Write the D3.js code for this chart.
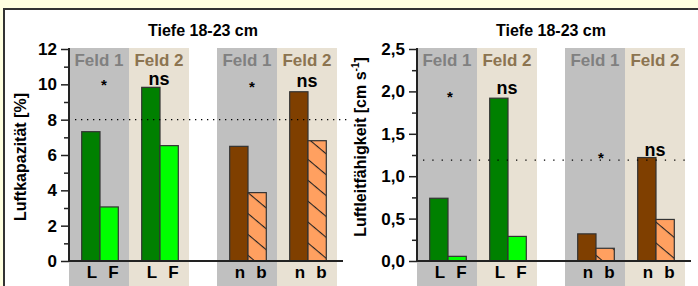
<!DOCTYPE html>
<html><head><meta charset="utf-8">
<script src="https://cdn.jsdelivr.net/npm/d3@7"></script>
<style>
html,body{margin:0;padding:0;background:#ffffe0;}
svg{display:block;font-family:"Liberation Sans",Arial,sans-serif;}
</style></head>
<body>
<svg id="c" width="698" height="286"></svg>
<script>
// ---- data ----
const title = "Tiefe 18-23 cm";
const fields = ["Feld 1", "Feld 2"];
const groups = ["A", "B"];
const catLabelsA = ["L", "F"];
const catLabelsB = ["n", "b"];
// left chart: Luftkapazität [%]
const kapA = [[7.32, 3.06], [9.83, 6.53]];
const kapB = [[6.49, 3.87], [9.58, 6.81]];
const kapSig = [["*", "ns"], ["*", "ns"]];
const kapRef = 8;
const kapTicks = [0, 2, 4, 6, 8, 10, 12];
// right chart: Luftleitfähigkeit [cm s-1]
const leitA = [[0.74, 0.055], [1.92, 0.29]];
const leitB = [[0.32, 0.15], [1.22, 0.49]];
const leitSig = [["*", "ns"], ["*", "ns"]];
const leitRef = 1.19;
const leitTicks = [0, 0.5, 1.0, 1.5, 2.0, 2.5];

const svg = d3.select("#c");
// panel
svg.append("rect").attr("x", 4).attr("y", 9).attr("width", 700).attr("height", 290)
  .attr("fill", "#fff").attr("stroke", "#333").attr("stroke-width", 2);

const defs = svg.append("defs");
const pat = defs.append("pattern").attr("id", "hatch").attr("patternUnits", "userSpaceOnUse")
  .attr("width", 16).attr("height", 16).attr("patternTransform", "rotate(40)");
pat.append("rect").attr("width", 16).attr("height", 16).attr("fill", "#ffa060");
pat.append("line").attr("x1", 0).attr("y1", 0.5).attr("x2", 16).attr("y2", 0.5)
  .attr("stroke", "#222").attr("stroke-width", 1.2);

const bandColors = {"Feld 1": "#c0c0c0", "Feld 2": "#e8e1d3"};
const fieldText = {"Feld 1": "#808080", "Feld 2": "#8c7450"};
const colA = ["#008000", "#00ff00"];
const colB = ["#7f3f00", "url(#hatch)"];
const FONT = "Liberation Sans, Arial, sans-serif";

function chart(ox, cfg) {
  const g = svg.append("g").attr("transform", `translate(${ox},0)`);
  const y = d3.scaleLinear().domain([0, cfg.max]).range([261, 49]);
  const outer = d3.scaleBand().domain(groups).range([0, 268]).paddingInner(28 / 148);
  const inner = d3.scaleBand().domain(fields).range([0, outer.bandwidth()]);
  const barX = d3.scaleBand().domain([0, 1]).range([12.7, 49.3]);
  const labX = d3.scaleOrdinal().domain([0, 1]).range([23, 44.5]);

  groups.forEach((gr, gi) => {
    const vals = gi === 0 ? cfg.a : cfg.b;
    const cols = gi === 0 ? colA : colB;
    const labs = gi === 0 ? catLabelsA : catLabelsB;
    fields.forEach((f, fi) => {
      const x0 = outer(gr) + inner(f);
      g.append("rect").attr("x", x0).attr("y", y(cfg.max) - 1).attr("width", inner.bandwidth())
        .attr("height", 286 - y(cfg.max) + 1).attr("fill", bandColors[f]);
      g.append("text").attr("x", x0 + inner.bandwidth() / 2).attr("y", 66)
        .attr("text-anchor", "middle").attr("font-size", 17).attr("font-weight", "bold")
        .attr("fill", fieldText[f]).text(f);
      vals[fi].forEach((v, bi) => {
        g.append("rect").attr("x", x0 + barX(bi)).attr("y", y(v))
          .attr("width", barX.bandwidth()).attr("height", y(0) - y(v))
          .attr("fill", cols[bi]).attr("stroke", "#333").attr("stroke-width", 1.2);
        g.append("text").attr("x", x0 + labX(bi)).attr("y", 278)
          .attr("text-anchor", "middle").attr("font-size", 17).attr("font-weight", "bold")
          .attr("fill", "#000").text(labs[bi]);
      });
      const s = cfg.sig[gi][fi];
      const isStar = s === "*";
      const sy = isStar ? cfg.starY[gi] + 10 : cfg.nsY[gi];
      g.append("text").attr("x", x0 + (isStar ? cfg.starDX[gi] : 30)).attr("y", sy)
        .attr("text-anchor", "middle").attr("font-size", isStar ? 15 : 18)
        .attr("font-weight", "bold").text(s);
    });
  });

  // reference dotted line
  g.append("line").attr("x1", 6).attr("x2", cfg.refEnd).attr("y1", y(cfg.ref)).attr("y2", y(cfg.ref))
    .attr("stroke", "#000").attr("stroke-width", 1.2).attr("stroke-dasharray", cfg.dash);

  // axes
  const ax = g.append("g").call(d3.axisLeft(y).tickValues(cfg.ticks).tickSize(8).tickFormat(cfg.fmt));
  ax.select(".domain").remove();
  ax.selectAll(".tick line").attr("stroke", "#222").attr("stroke-width", 1.5);
  ax.selectAll(".tick text").attr("font-size", 17).attr("font-weight", "bold")
    .attr("font-family", FONT).attr("fill", "#000").attr("x", -12);
  const mx = g.append("g").call(d3.axisLeft(y).tickValues(cfg.minor).tickSize(5).tickFormat(""));
  mx.select(".domain").remove();
  mx.selectAll(".tick line").attr("stroke", "#222").attr("stroke-width", 1.5);
  g.append("line").attr("x1", 0).attr("x2", 0).attr("y1", y(cfg.max) - 1).attr("y2", y(0) + 1)
    .attr("stroke", "#222").attr("stroke-width", 2);
  g.append("line").attr("x1", -1).attr("x2", 274).attr("y1", y(0)).attr("y2", y(0))
    .attr("stroke", "#222").attr("stroke-width", 2);

  g.append("text").attr("x", 134).attr("y", 36).attr("text-anchor", "middle")
    .attr("font-size", 16).attr("font-weight", "bold").text(title);
  return g;
}

const fmtComma = d => d3.format(".1f")(d).replace(".", ",");
const gl = chart(69, {max: 12, a: kapA, b: kapB, sig: kapSig, ref: kapRef, ticks: kapTicks,
  minor: [1, 3, 5, 7, 9, 11], fmt: d3.format("d"), refEnd: 281, dash: "1.3,4.7",
  starY: [80, 82], nsY: [85, 87], starDX: [35, 35]});
const gr = chart(417, {max: 2.5, a: leitA, b: leitB, sig: leitSig, ref: leitRef, ticks: leitTicks,
  minor: [0.25, 0.75, 1.25, 1.75, 2.25], fmt: fmtComma, refEnd: 271, dash: "1.3,8",
  starY: [92, 153], nsY: [94, 156], starDX: [33, 36]});

// y axis titles
svg.append("text").attr("transform", "translate(26,157) rotate(-90)").attr("text-anchor", "middle")
  .attr("font-size", 16).attr("font-weight", "bold").text("Luftkapazität [%]");
const t2 = svg.append("text").attr("transform", "translate(366,147) rotate(-90)").attr("text-anchor", "middle")
  .attr("font-size", 16).attr("font-weight", "bold");
t2.append("tspan").text("Luftleitfähigkeit [cm s");
t2.append("tspan").attr("font-size", 10).attr("dy", -7).text("-1");
t2.append("tspan").attr("dy", 7).text("]");
</script>
</body></html>
